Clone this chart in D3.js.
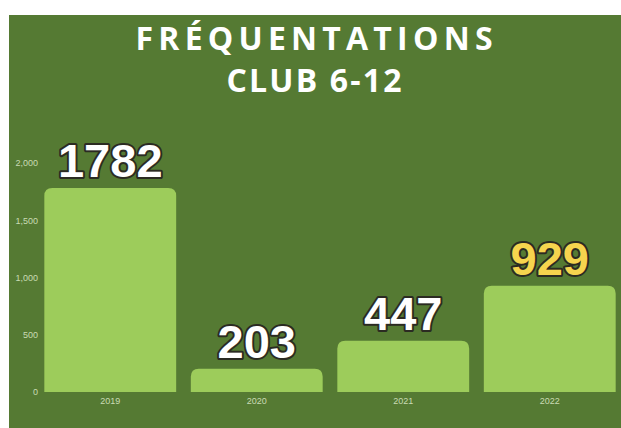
<!DOCTYPE html>
<meta charset="utf-8">
<style>
    body { margin: 0; background: #fff; }
    .axis path, .axis line { display: none; }
    .axis text { fill: #c9dab4; font-family: "Liberation Sans", Arial, sans-serif; font-size: 9px; }
    .value {
        font-family: "Liberation Sans", Arial, sans-serif;
        font-weight: bold;
        font-size: 47px;
        text-anchor: middle;
        stroke: #2b2b22;
        stroke-width: 4px;
        stroke-linejoin: round;
        paint-order: stroke;
    }
    .title {
        fill: #fff;
        font-family: "Open Sans", sans-serif;
        font-weight: 700;
        font-size: 32px;
        text-anchor: middle;
    }
</style>

<body>
    <svg width="621" height="428"></svg>
    <script src="https://d3js.org/d3.v7.min.js"></script>
    <script>
        var years = ["2019", "2020", "2021", "2022"];
        var visits = [1782, 203, 447, 929];
        var labelColors = ["#ffffff", "#ffffff", "#ffffff", "#f6d44e"];
        var yTicks = [0, 500, 1000, 1500, 2000];
        var titleLines = ["FRÉQUENTATIONS", "CLUB 6-12"];

        var data = years.map(function (y, i) {
            return { year: y, value: visits[i], color: labelColors[i] };
        });

        var svg = d3.select("svg");

        // green panel
        svg.append("rect")
            .attr("x", 9).attr("y", 15)
            .attr("width", 612).attr("height", 413)
            .attr("fill", "#557a33");

        var x = d3.scaleBand()
            .domain(years)
            .range([37, 623])
            .paddingInner(0.1)
            .paddingOuter(0.05);

        var y = d3.scaleLinear()
            .domain([0, 2000])
            .range([392, 163]);

        svg.append("g")
            .attr("class", "axis")
            .attr("transform", "translate(40,0)")
            .call(d3.axisLeft(y).tickValues(yTicks).tickFormat(d3.format(",")).tickSize(0).tickPadding(2));

        svg.append("g")
            .attr("class", "axis")
            .attr("transform", "translate(0,392)")
            .call(d3.axisBottom(x).tickSize(0).tickPadding(6));

        var r = 8;
        function barPath(d) {
            var x0 = x(d.year), w = x.bandwidth(), y0 = y(d.value), y1 = y(0);
            return "M" + x0 + "," + y1 +
                "V" + (y0 + r) +
                "Q" + x0 + "," + y0 + " " + (x0 + r) + "," + y0 +
                "H" + (x0 + w - r) +
                "Q" + (x0 + w) + "," + y0 + " " + (x0 + w) + "," + (y0 + r) +
                "V" + y1 + "Z";
        }

        svg.selectAll(".bar")
            .data(data)
            .enter().append("path")
            .attr("class", "bar")
            .attr("fill", "#9dcc5b")
            .attr("d", barPath);

        svg.selectAll(".value")
            .data(data)
            .enter().append("text")
            .attr("class", "value")
            .attr("x", function (d) { return x(d.year) + x.bandwidth() / 2; })
            .attr("y", function (d) { return y(d.value) - 11; })
            .attr("fill", function (d) { return d.color; })
            .text(function (d) { return d.value; });

        svg.selectAll(".title")
            .data(titleLines)
            .enter().append("text")
            .attr("class", "title")
            .attr("x", 314)
            .attr("y", function (d, i) { return 50 + i * 42; })
            .attr("textLength", function (d, i) { return i === 0 ? 357 : 175; })
            .attr("lengthAdjust", "spacing")
            .text(function (d) { return d; });
    </script>
</body>
